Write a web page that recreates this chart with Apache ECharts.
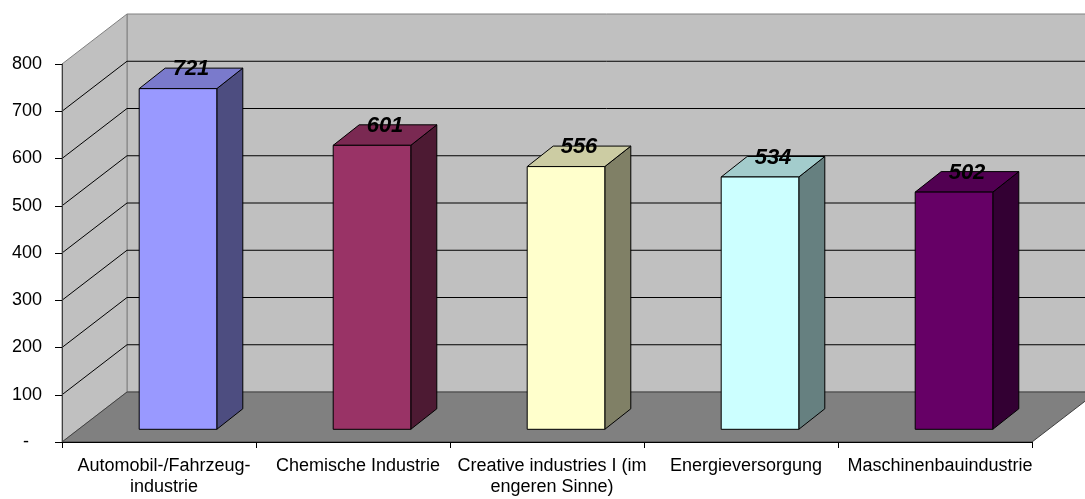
<!DOCTYPE html>
<html>
<head>
<meta charset="utf-8">
<script src="https://cdn.jsdelivr.net/npm/echarts@6/dist/echarts.min.js"></script>
<style>
  html, body { margin: 0; padding: 0; background: #fff; }
  #chart { width: 1085px; height: 499px; }
</style>
</head>
<body>
<div id="chart"></div>
<script>
const categories = [
  'Automobil-/Fahrzeug-\nindustrie',
  'Chemische Industrie',
  'Creative industries I (im\nengeren Sinne)',
  'Energieversorgung',
  'Maschinenbauindustrie'
];
const values = [721, 601, 556, 534, 502];
const yTicks = [0, 100, 200, 300, 400, 500, 600, 700, 800];

// colours per bar: front, top, side
const frontColors = ['#9999ff', '#993366', '#ffffcc', '#ccffff', '#660066'];
const topColors = ['#7a7acc', '#7a2952', '#cccca3', '#a3cccc', '#520052'];
const sideColors = ['#4d4d80', '#4d1a33', '#808066', '#668080', '#330033'];

// oblique depth of the box (pixels)
const DX = 65, DY = 50;
// bar front plane offset and bar depth
const FX = 19, FY = 12.7;
const SX = 26, SY = 20.5;
const FONT = '"Liberation Sans", Arial, sans-serif';

var myChart = echarts.init(document.getElementById('chart'));

function renderWalls(params, api) {
  const bw = api.size([1, 0])[0];
  const x0 = api.coord([0, 0])[0] - bw / 2;
  const x1 = x0 + bw * categories.length;
  const y0 = api.coord([0, 0])[1];
  const yTop = api.coord([0, yTicks[yTicks.length - 1]])[1];
  const children = [];
  // back wall
  children.push({
    type: 'polygon',
    shape: { points: [[x0 + DX, yTop - DY], [x1 + DX, yTop - DY], [x1 + DX, y0 - DY], [x0 + DX, y0 - DY]] },
    style: { fill: '#c0c0c0', stroke: '#808080', lineWidth: 1 }
  });
  // left wall
  children.push({
    type: 'polygon',
    shape: { points: [[x0, yTop], [x0 + DX, yTop - DY], [x0 + DX, y0 - DY], [x0, y0]] },
    style: { fill: '#c0c0c0', stroke: '#808080', lineWidth: 1 }
  });
  // floor
  children.push({
    type: 'polygon',
    shape: { points: [[x0, y0], [x0 + DX, y0 - DY], [x1 + DX, y0 - DY], [x1, y0]] },
    style: { fill: '#808080', stroke: '#404040', lineWidth: 1 }
  });
  // grid lines
  yTicks.slice(1, -1).forEach(function (t) {
    const y = api.coord([0, t])[1];
    children.push({
      type: 'polyline',
      shape: { points: [[x0, y], [x0 + DX, y - DY], [x1 + DX, y - DY]] },
      style: { stroke: '#000', lineWidth: 1, fill: null }
    });
  });
  return { type: 'group', children: children };
}

function renderBar(params, api) {
  const i = api.value(0);
  const v = api.value(1);
  const base = api.coord([i, 0]);
  const top = api.coord([i, v]);
  const bw = api.size([1, 0])[0];
  const w = bw * 0.4;
  const fx = base[0] + FX - w / 2;
  const fy0 = base[1] - FY;
  const fy1 = top[1] - FY;
  const line = { stroke: '#000', lineWidth: 1 };
  return {
    type: 'group',
    children: [
      {
        type: 'polygon',
        shape: { points: [[fx + w, fy1], [fx + w + SX, fy1 - SY], [fx + w + SX, fy0 - SY], [fx + w, fy0]] },
        style: Object.assign({ fill: sideColors[i] }, line)
      },
      {
        type: 'polygon',
        shape: { points: [[fx, fy1], [fx + SX, fy1 - SY], [fx + w + SX, fy1 - SY], [fx + w, fy1]] },
        style: Object.assign({ fill: topColors[i] }, line)
      },
      {
        type: 'rect',
        shape: { x: fx, y: fy1, width: w, height: fy0 - fy1 },
        style: Object.assign({ fill: frontColors[i] }, line)
      },
      {
        type: 'text',
        style: {
          text: String(v),
          x: fx + w / 2 + SX / 2,
          y: fy1 - SY + 1,
          font: 'italic bold 22px ' + FONT,
          fill: '#000',
          align: 'center',
          verticalAlign: 'middle'
        }
      }
    ]
  };
}

myChart.setOption({
  animation: false,
  grid: { left: 62, right: 53, top: 64, bottom: 57 },
  xAxis: {
    type: 'category',
    data: categories,
    z: 5,
    axisLine: { show: true, lineStyle: { color: '#000', width: 1 } },
    axisTick: { show: true, length: 6, lineStyle: { color: '#000' } },
    axisLabel: {
      interval: 0,
      color: '#000',
      fontSize: 18,
      fontFamily: FONT,
      lineHeight: 21,
      margin: 14,
      padding: [0, 0, 0, 10]
    }
  },
  yAxis: {
    type: 'value',
    min: 0,
    max: 800,
    interval: 100,
    z: 5,
    axisLine: { show: true, lineStyle: { color: '#404040', width: 1 } },
    axisTick: { show: true, length: 7, lineStyle: { color: '#000' } },
    splitLine: { show: false },
    axisLabel: {
      color: '#000',
      fontSize: 18,
      fontFamily: FONT,
      margin: 20,
      formatter: function (v) { return v === 0 ? '{d|-}' : String(v); },
      rich: { d: { fontSize: 18, fontFamily: FONT, color: '#000', padding: [0, 13, 0, 0] } }
    }
  },
  series: [
    {
      type: 'custom',
      z: 1,
      silent: true,
      renderItem: renderWalls,
      data: [[0, 0]]
    },
    {
      type: 'custom',
      z: 3,
      renderItem: renderBar,
      encode: { x: 0, y: 1 },
      data: values.map(function (v, i) { return [i, v]; })
    }
  ]
});
</script>
</body>
</html>
